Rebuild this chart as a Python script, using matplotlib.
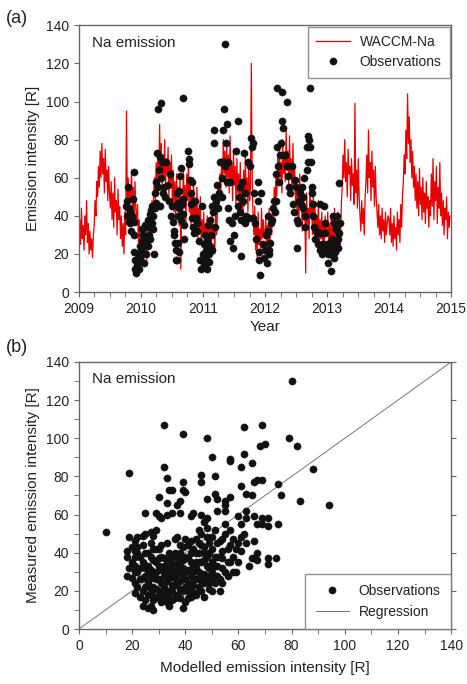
import matplotlib
matplotlib.use("Agg")
import matplotlib.pyplot as plt
from matplotlib.ticker import MultipleLocator
import numpy as np

plt.rcParams['font.family'] = ['Liberation Sans', 'DejaVu Sans']

# ---------------- Data ----------------
model_start_year = 2009.0
model_step_days = 5
waccm_2009 = [30, 38, 25, 44, 28, 35, 22, 40, 30, 48, 26, 36, 20,
              32, 22, 28, 18, 30,
              35, 48, 40, 58, 50, 66, 55, 74, 60, 78, 62, 70, 52, 75, 58, 64, 48, 66, 52,
              44, 58, 38, 52, 34, 60, 42, 48, 30, 54, 38, 45,
              28, 40, 24, 36, 20, 42, 30,
              95,
              45, 60, 40, 56, 48, 64, 42, 55, 38, 58, 44,
              35, 46, 26, 38, 22]
waccm_2010 = [28, 18, 32, 15, 25, 20, 34, 17, 28,
              36, 24, 42, 30, 48, 35, 52,
              60, 48, 68, 55, 74, 58, 88, 62, 78, 56, 72, 60, 80, 54, 70, 62, 76, 50, 68, 58, 72, 46, 64,
              42, 58, 38, 62, 45, 55, 35, 60, 12, 50, 40, 66, 44, 56, 36, 62, 48, 70, 42, 58, 34, 52,
              40, 60, 30, 48, 36, 55, 28, 44, 32, 50, 26, 38]
waccm_2011 = [30, 42, 22, 36, 18, 40, 25, 33, 15, 38, 24, 44, 28, 35, 20, 46, 30,
              40, 55, 45, 62,
              50, 70, 58, 80, 62, 74, 55, 78, 60, 72, 52, 82, 58, 68, 48, 75, 56, 66, 45, 70, 52, 62,
              40, 68, 48, 58, 38, 64, 45, 72, 50, 60, 42, 66, 48,
              55, 120, 62,
              40, 30, 45, 22, 36, 18, 42, 25, 33, 20, 44, 28, 38, 30]
waccm_2012 = [28, 40, 22, 35, 18, 44, 26, 38, 30,
              45, 35, 55, 42, 62, 50, 70, 56, 76, 60, 68, 52, 80, 62, 72, 58, 85, 64, 74, 55, 82, 60,
              70, 50, 78, 56, 66, 48,
              58, 40, 55, 35, 62, 44, 50, 32, 56, 38, 46, 10, 52, 36, 44, 28, 55, 40, 48, 30, 52, 35,
              45, 26, 40, 32, 48, 22, 38, 28, 42, 20, 35, 25, 40, 30]
waccm_2013 = [30, 42, 24, 36, 20, 40, 28, 34, 18, 44, 26, 38, 22, 42, 30, 36, 25, 46,
              55, 72, 60, 80, 58, 68, 50, 75, 62, 66, 48, 70, 56, 62, 46, 99, 52, 64, 44, 70, 50,
              40, 32, 48, 36, 44, 30, 50,
              58, 72, 52, 85, 60, 68, 48, 74, 55, 64, 45, 66, 50,
              42, 34, 46, 30, 40, 28, 44, 32, 38, 26, 42, 30, 36, 40]
waccm_2014 = [38, 30, 44, 26, 36, 24, 40, 28, 34, 22, 42, 30, 38, 26, 46, 34, 50,
              58, 72, 62, 85, 70, 104, 78, 92, 68, 80, 60, 74, 55, 66,
              48, 62, 44, 58, 40, 65, 46, 55, 38, 60, 42, 52, 36, 58, 44, 50, 34, 48,
              40, 62, 45, 70, 38, 58, 48, 66, 36, 55, 44, 68, 40, 52,
              35, 48, 30, 44, 38, 50, 28, 42, 34, 40]

obs_year = [
    2009.76, 2009.77, 2009.78, 2009.79, 2009.80, 2009.81, 2009.82, 2009.83, 2009.84, 2009.86, 2009.87, 2009.88, 2009.88, 2009.89,
    2009.89, 2009.90, 2009.91, 2009.92, 2009.93, 2009.94, 2009.95, 2009.96, 2009.97, 2009.98, 2009.99,
    2010.00, 2010.01, 2010.02, 2010.03, 2010.04, 2010.05, 2010.06, 2010.07, 2010.08, 2010.09, 2010.10, 2010.11, 2010.12, 2010.13,
    2010.14, 2010.15, 2010.16, 2010.17, 2010.18, 2010.19, 2010.20, 2010.21,
    2010.22, 2010.23, 2010.24, 2010.25, 2010.26, 2010.27, 2010.28, 2010.29, 2010.30, 2010.31, 2010.32, 2010.33, 2010.34, 2010.35,
    2010.37, 2010.39, 2010.41, 2010.43, 2010.45, 2010.47, 2010.49, 2010.50, 2010.52, 2010.53, 2010.54, 2010.55, 2010.56, 2010.57,
    2010.58, 2010.59, 2010.60, 2010.61, 2010.62, 2010.63, 2010.64, 2010.65, 2010.66, 2010.67, 2010.67, 2010.68, 2010.69, 2010.70,
    2010.60, 2010.62, 2010.58,
    2010.76, 2010.77, 2010.78, 2010.79, 2010.80, 2010.81, 2010.82, 2010.83, 2010.84, 2010.85, 2010.86, 2010.87, 2010.88, 2010.90,
    2010.91, 2010.93, 2010.95, 2010.97, 2010.98, 2011.00,
    2011.01, 2011.02, 2011.03, 2011.04, 2011.05, 2011.06, 2011.07, 2011.08, 2011.09, 2011.10, 2011.11, 2011.12, 2011.13, 2011.14,
    2011.15, 2011.16, 2011.17, 2011.17, 2011.18, 2011.19,
    2011.21, 2011.22, 2011.24, 2011.26, 2011.28, 2011.30, 2011.31, 2011.32, 2011.33, 2011.34, 2011.35, 2011.36, 2011.37, 2011.38,
    2011.39, 2011.40, 2011.41, 2011.42, 2011.43, 2011.44,
    2011.46, 2011.48, 2011.50, 2011.52, 2011.54, 2011.56, 2011.57, 2011.58, 2011.59, 2011.60, 2011.61, 2011.62, 2011.63, 2011.64,
    2011.66, 2011.67, 2011.68, 2011.70,
    2011.73, 2011.74, 2011.76, 2011.78, 2011.79, 2011.80, 2011.81, 2011.82, 2011.84, 2011.86, 2011.88, 2011.89, 2011.90, 2011.91,
    2011.92, 2011.93,
    2011.96, 2011.98, 2012.00, 2012.02, 2012.03, 2012.04, 2012.05, 2012.06, 2012.07, 2012.08, 2012.10, 2012.12, 2012.13, 2012.14,
    2012.16, 2012.17, 2012.18, 2012.19, 2012.20, 2012.21, 2012.22, 2012.24, 2012.26, 2012.28, 2012.28, 2012.29, 2012.31, 2012.33,
    2012.35, 2012.36, 2012.37, 2012.38,
    2012.41, 2012.43, 2012.45, 2012.47, 2012.49, 2012.50, 2012.51, 2012.52, 2012.53, 2012.55, 2012.57, 2012.58, 2012.60, 2012.61,
    2012.62, 2012.63, 2012.64, 2012.65,
    2012.67, 2012.68, 2012.69, 2012.70, 2012.71, 2012.72, 2012.73, 2012.74, 2012.75, 2012.76, 2012.77, 2012.78, 2012.79, 2012.80,
    2012.82, 2012.84, 2012.86, 2012.88, 2012.89, 2012.90, 2012.92, 2012.94, 2012.95, 2012.96, 2012.97, 2012.98,
    2013.00, 2013.01, 2013.02, 2013.03, 2013.04, 2013.05, 2013.06, 2013.07, 2013.08, 2013.09, 2013.10, 2013.11, 2013.12, 2013.13,
    2013.14, 2013.15, 2013.16, 2013.17, 2013.18, 2013.19, 2013.20, 2013.21]
obs_val = [
    45, 40, 48, 55, 44, 37, 42, 36, 32, 40, 49, 63, 37, 30,
    21, 17, 12, 10, 17, 14, 20, 16, 12, 24, 18,
    22, 27, 33, 24, 30, 15, 26, 35, 20, 29, 34, 24, 38, 30,
    41, 28, 43, 36, 45, 33, 40, 20,
    44, 52, 58, 47, 73, 55, 96, 64, 71, 45, 60, 99, 68, 52,
    55, 50, 68, 56, 48, 62, 40, 45, 37, 32, 30, 26, 22, 17,
    52, 47, 40, 53, 44, 61, 38, 65, 46, 102, 49, 41, 28, 35,
    26, 21, 17,
    74, 70, 67, 59, 52, 46, 39, 58, 34, 31, 48, 48, 39, 36,
    32, 27, 17, 12, 45, 20,
    14, 25, 18, 30, 22, 12, 27, 35, 20, 16, 24, 38, 30, 45,
    22, 42, 85, 78, 50, 34,
    48, 56, 44, 52, 68, 60, 50, 85, 68, 96, 130, 66, 78, 58,
    88, 68, 44, 38, 58, 27,
    36, 23, 30, 40, 74, 90, 45, 50, 55, 42, 38, 19, 58, 48,
    73, 36, 52, 40,
    68, 39, 66, 81, 76, 78, 39, 52, 36, 28, 58, 48, 21, 17,
    9, 52,
    25, 18, 22, 30, 15, 40, 32, 22, 20, 26, 36, 38, 44, 48,
    42, 48, 62, 76, 107, 66, 58, 72, 78, 105, 90, 86, 72, 72,
    100, 66, 61, 55,
    52, 66, 46, 42, 59, 55, 38, 23, 36, 48, 52, 46, 55, 50,
    44, 60, 40, 34,
    64, 76, 68, 82, 80, 107, 76, 68, 55, 52, 46, 40, 34, 28,
    32, 31, 25, 46, 22, 31, 20, 25, 45, 36, 31, 22,
    25, 20, 15, 24, 26, 20, 11, 22, 28, 24, 40, 36, 18, 21,
    25, 33, 40, 28, 23, 31, 57, 36]

scatter_model = [
    10, 19, 32, 39, 48, 62, 69, 70, 80, 79, 82, 68, 88, 75, 76, 83, 94, 69, 67, 71, 75, 67, 71, 71, 74,
    32, 33, 50, 57, 57, 62, 61, 65, 46, 39, 51, 34, 35, 39, 40, 46, 51, 52, 55, 57, 61, 63, 66, 67, 69,
    65, 30, 33, 38, 37, 48, 55,
    25, 29, 30, 33, 31, 35, 38, 42, 43, 46, 48, 47, 52, 55, 55, 60, 63, 63, 61, 66, 69, 71, 66, 67, 65,
    66, 61, 59, 64, 54, 54, 51, 54,
    19, 18, 21, 22, 24, 25, 27, 28, 29, 21, 22, 21, 18, 21, 21, 25, 27, 29, 34, 38, 44, 49, 50,
    22, 23, 24, 24, 25, 25, 26, 26, 27, 27, 28, 28, 29, 29, 30, 30, 31, 31, 32, 32, 33, 33, 34, 34,
    35, 35, 36, 36, 37, 37, 38, 38, 39, 39, 40, 40, 41, 41, 42, 42, 43, 43, 44, 44, 45, 45, 46, 46,
    47, 47, 48, 48, 49, 49, 50, 50, 51, 52, 52, 53, 55, 56, 57, 58, 53, 56,
    23, 23, 24, 25, 26, 26, 27, 27, 28, 28, 29, 29, 30, 30, 31, 31, 32, 32, 33, 33, 34, 34, 35, 35,
    36, 36, 37, 37, 38, 38, 39, 39, 40, 40, 41, 41, 42, 42, 43, 43, 44, 44, 45, 45, 46, 46, 47, 47,
    48, 48, 49, 49, 50, 50, 51, 51, 52, 53, 54, 55, 57, 58, 60, 62, 60, 63,
    20, 21, 22, 22, 23, 24, 25, 26, 27, 28, 29, 30, 31, 32, 33, 34, 35, 36, 36, 37, 38, 38, 39, 40,
    40, 41, 42, 42, 43, 44, 44, 45, 45, 46, 47, 47, 48, 49, 50, 51, 52, 53, 54, 56, 57, 58, 59, 61,
    18, 19, 20, 21, 20, 26, 28, 31, 35, 39, 41, 33, 37, 43, 45, 34, 30, 24, 27, 36]
scatter_meas = [
    51, 82, 107, 102, 100, 106, 107, 97, 130, 100, 96, 96, 84, 76, 70, 67, 65, 58, 55, 54, 55, 36, 37, 34, 37,
    85, 79, 90, 89, 88, 92, 85, 87, 81, 77, 80, 73, 73, 73, 72, 77, 71, 68, 67, 69, 75, 71, 77, 78, 78,
    70, 69, 66, 67, 65, 68, 65,
    61, 61, 59, 60, 58, 61, 61, 59, 61, 60, 58, 56, 62, 62, 55, 59, 62, 58, 55, 59, 55, 58, 46, 40, 37,
    37, 41, 30, 33, 32, 24, 27, 37,
    48, 41, 41, 48, 49, 50, 51, 49, 52, 38, 40, 33, 28, 24, 19, 22, 19, 21, 17, 21, 19, 24, 27,
    30, 26, 35, 20, 28, 15, 33, 24, 38, 12, 29, 22, 17, 35, 26, 42, 14, 31, 22, 37, 19, 45, 27, 12,
    33, 23, 40, 16, 29, 48, 25, 35, 20, 43, 30, 14, 37, 24, 46, 28, 18, 33, 40, 26, 52, 22, 35, 44,
    29, 17, 38, 48, 32, 21, 42, 35, 52, 28, 45, 38, 50, 42, 35, 47, 20, 28,
    38, 17, 44, 32, 40, 18, 27, 45, 36, 15, 26, 42, 20, 33, 38, 24, 28, 16, 34, 25, 20, 40, 28, 15,
    23, 34, 18, 38, 30, 44, 27, 36, 22, 47, 31, 16, 35, 21, 27, 42, 32, 18, 30, 40, 25, 50, 36, 43,
    26, 53, 40, 28, 20, 48, 33, 24, 38, 46, 41, 30, 44, 38, 45, 50, 35, 45,
    27, 30, 22, 43, 32, 12, 40, 29, 21, 42, 30, 16, 44, 33, 14, 31, 38, 27, 47, 24, 16, 40, 32, 38,
    26, 44, 17, 40, 23, 35, 47, 27, 35, 20, 40, 24, 33, 45, 30, 38, 33, 26, 47, 35, 52, 30, 42, 48,
    38, 32, 35, 46, 43, 11, 10, 19, 20, 11, 20, 30, 33, 30, 45, 36, 37, 27, 31, 30]

reg_slope = 1.0
reg_intercept = 0.0

# ---------------- Figure ----------------
waccm = waccm_2009 + waccm_2010 + waccm_2011 + waccm_2012 + waccm_2013 + waccm_2014
waccm_t = model_start_year + np.arange(len(waccm)) * model_step_days / 365.25

fig = plt.figure(figsize=(4.67, 6.84), dpi=100)
txt = '#222222'
spine_c = '#666666'

def style(ax):
    for s in ax.spines.values():
        s.set_color(spine_c)
        s.set_linewidth(1.0)
    ax.tick_params(which='both', direction='out', color=spine_c, labelsize=10, labelcolor=txt)
    ax.tick_params(which='major', length=3.5)
    ax.tick_params(which='minor', length=3.5)

# Panel (a)
ax1 = fig.add_axes([0.169, 0.573, 0.797, 0.390])
ax1.plot(waccm_t, waccm, color='#e80000', lw=0.9, label='WACCM-Na', zorder=2)
ax1.plot(obs_year, obs_val, 'o', color='#111111', ms=5.2, mec='#111111', mew=0.3,
         label='Observations', zorder=3)
ax1.set_xlim(2009, 2015)
ax1.set_ylim(0, 140)
ax1.xaxis.set_major_locator(MultipleLocator(1))
ax1.xaxis.set_minor_locator(MultipleLocator(0.25))
ax1.yaxis.set_major_locator(MultipleLocator(20))
style(ax1)
ax1.set_xticklabels([str(int(v)) for v in ax1.get_xticks()])
ax1.set_xlabel('Year', fontsize=11, color=txt, labelpad=3)
ax1.set_ylabel('Emission intensity [R]', fontsize=11, color=txt, labelpad=4)
ax1.text(0.035, 0.935, 'Na emission', transform=ax1.transAxes, fontsize=11, color=txt,
         va='center', ha='left')
leg1 = ax1.legend(loc='upper right', fontsize=10, frameon=True, fancybox=False,
                  edgecolor='#777777', borderaxespad=0.1, handlelength=2.4,
                  handletextpad=0.7, borderpad=0.6, labelspacing=0.45)
leg1.get_frame().set_linewidth(1.0)
for t in leg1.get_texts():
    t.set_color(txt)
fig.text(0.012, 0.985, '(a)', fontsize=13, color=txt, va='top', ha='left')

# Panel (b)
ax2 = fig.add_axes([0.169, 0.0804, 0.797, 0.3904])
xx = np.array([0.0, 140.0])
ax2.plot(scatter_model, scatter_meas, 'o', color='#111111', ms=5.2, mec='#111111', mew=0.3,
         label='Observations', zorder=3)
ax2.plot(xx, reg_intercept + reg_slope * xx, color='#777777', lw=0.7, label='Regression', zorder=2)
ax2.set_xlim(0, 140)
ax2.set_ylim(0, 140)
ax2.xaxis.set_major_locator(MultipleLocator(20))
ax2.xaxis.set_minor_locator(MultipleLocator(10))
ax2.yaxis.set_major_locator(MultipleLocator(20))
ax2.yaxis.set_minor_locator(MultipleLocator(10))
style(ax2)
ax2.tick_params(which='major', right=True)
ax2.set_xlabel('Modelled emission intensity [R]', fontsize=11, color=txt, labelpad=6)
ax2.set_ylabel('Measured emission intensity [R]', fontsize=11, color=txt, labelpad=4)
ax2.text(0.035, 0.935, 'Na emission', transform=ax2.transAxes, fontsize=11, color=txt,
         va='center', ha='left')
leg2 = ax2.legend(loc='lower right', fontsize=10, frameon=True, fancybox=False,
                  edgecolor='#777777', borderaxespad=0.0, handlelength=2.4,
                  handletextpad=0.7, borderpad=0.75, labelspacing=0.45)
leg2.get_frame().set_linewidth(1.0)
for t in leg2.get_texts():
    t.set_color(txt)
fig.text(0.012, 0.505, '(b)', fontsize=13, color=txt, va='top', ha='left')

fig.savefig('out.png', dpi=100)
